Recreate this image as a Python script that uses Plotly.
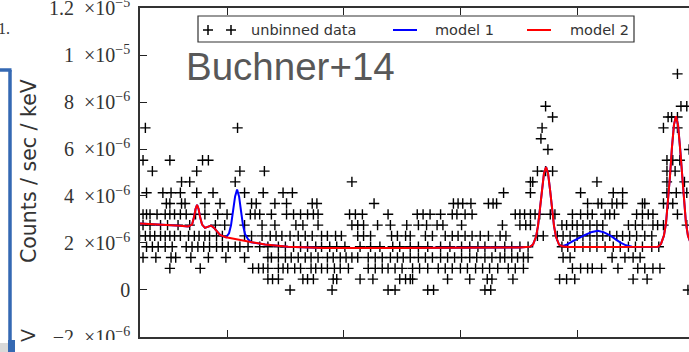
import plotly.graph_objects as go

# ---------------- data (energy in keV, rate in 1e-6 counts/sec/keV) ----------------
rate_levels = [0.00, 0.46, 0.92, 1.38, 1.84, 2.30, 2.76, 3.22, 3.68, 4.14, 4.60,
               5.06, 5.52, 5.98, 6.44, 6.90, 7.36, 7.82, 8.28, 8.74, 9.20]

x_l00 = [1.54, 1.90, 2.38, 2.44, 2.72, 2.77, 3.21, 3.26, 4.95]
x_l01 = [1.35, 1.39, 1.44, 1.65, 1.69, 1.74, 1.91, 1.94, 2.14, 2.25, 2.48, 2.53, 2.57, 2.59,
         2.89, 3.08, 3.23, 3.27, 3.45, 3.85, 3.91, 3.98, 4.48, 4.60]
x_l02 = [0.51, 0.77, 1.22, 1.27, 1.31, 1.35, 1.44, 1.48, 1.52, 1.58, 1.63, 1.72, 1.76, 1.81,
         1.86, 1.92, 1.97, 2.04, 2.21, 2.27, 2.33, 2.38, 2.44, 2.50, 2.59, 2.65, 2.72, 2.81,
         2.87, 2.93, 3.00, 3.06, 3.13, 3.19, 3.25, 3.32, 3.41, 3.47, 3.54, 3.96, 4.03, 4.09,
         4.13, 4.21, 4.35, 4.52, 4.58, 4.65, 4.71]
x_l03 = [0.28, 0.39, 0.52, 0.56, 0.69, 0.84, 0.99, 1.15, 1.35, 1.38, 1.44, 1.50, 1.55, 1.61,
         1.67, 1.72, 1.78, 1.86, 1.91, 1.97, 2.02, 2.07, 2.12, 2.21, 2.27, 2.33, 2.40, 2.46,
         2.51, 2.57, 2.64, 2.70, 2.76, 2.83, 2.89, 2.95, 3.01, 3.08, 3.14, 3.21, 3.27, 3.34,
         3.38, 3.44, 3.49, 3.54, 3.58, 3.88, 3.94, 4.30, 4.41, 4.48, 4.54]
x_l04 = [0.31, 0.36, 0.41, 0.47, 0.53, 0.65, 0.70, 0.75, 0.80, 0.85, 0.91, 0.96, 1.01, 1.07,
         1.11, 1.18, 1.28, 1.35, 1.44, 1.50, 1.57, 1.63, 1.69, 1.76, 1.81, 1.88, 1.94, 2.01,
         2.14, 2.23, 2.31, 2.42, 2.48, 2.57, 2.64, 2.72, 2.83, 2.91, 3.01, 3.08, 3.15, 3.21,
         3.30, 3.38, 3.44, 3.51, 3.58, 3.87, 3.92, 3.98, 4.05, 4.11, 4.17, 4.24, 4.31, 4.37,
         4.44, 4.50, 4.56, 4.64, 4.70]
x_l05 = [0.25, 0.30, 0.34, 0.38, 0.43, 0.47, 0.51, 0.55, 0.60, 0.67, 0.72, 0.76, 0.81, 0.85,
         0.91, 0.96, 1.15, 1.21, 1.30, 1.37, 1.42, 1.47, 1.54, 1.61, 1.67, 1.73, 1.81, 1.86,
         1.93, 1.98, 2.12, 2.17, 2.23, 2.41, 2.46, 2.53, 2.57, 2.70, 2.76, 2.87, 2.93, 2.98,
         3.04, 3.10, 3.17, 3.24, 3.34, 3.39, 3.66, 3.71, 3.83, 3.88, 3.94, 4.00, 4.05, 4.11,
         4.17, 4.22, 4.28, 4.34, 4.39, 4.45, 4.51, 4.58, 4.64]
x_l06 = [0.28, 0.34, 0.43, 0.49, 0.58, 0.68, 0.90, 0.98, 1.15, 1.30, 1.41, 1.59, 1.65, 1.78,
         2.07, 2.12, 2.17, 2.29, 2.40, 2.54, 2.64, 2.71, 2.80, 2.85, 3.01, 3.36, 3.51, 3.56,
         3.60, 3.87, 3.91, 3.96, 4.00, 4.05, 4.11, 4.17, 4.22, 4.44, 4.50, 4.56, 4.65, 4.69,
         4.74, 4.94]
x_l07 = [0.28, 0.31, 0.34, 0.40, 0.47, 0.51, 0.55, 0.60, 0.65, 0.73, 0.81, 0.92, 1.00, 1.20,
         1.24, 1.28, 1.38, 1.51, 1.57, 1.63, 1.69, 1.74, 1.78, 2.05, 2.10, 2.16, 2.38, 2.63,
         2.68, 2.74, 2.83, 2.93, 2.97, 3.04, 3.10, 3.47, 3.51, 3.55, 3.60, 3.64, 3.68, 3.77,
         3.81, 3.96, 4.03, 4.09, 4.13, 4.24, 4.28, 4.32, 4.51, 4.56, 4.61, 4.65, 4.86]
x_l08 = [0.48, 0.51, 0.61, 0.64, 0.81, 0.94, 1.21, 1.25, 1.41, 1.51, 1.73, 1.77, 2.26, 2.94,
         2.98, 3.02, 3.09, 3.24, 3.28, 3.31, 4.09, 4.18, 4.21, 4.30, 4.34, 4.39, 4.56, 4.58,
         4.74, 4.78, 4.82]
x_l09 = [0.31, 0.45, 0.52, 0.60, 0.74, 0.88, 1.15, 1.31, 1.48, 1.56, 3.37, 3.60, 4.03, 4.31,
         4.39, 4.77, 4.85, 4.94]
x_l10 = [0.61, 0.68, 1.07, 2.07, 3.60, 3.62, 4.17, 4.77, 4.92]
x_l11 = [0.36, 0.74, 1.11, 1.32, 3.66, 3.73, 3.79, 4.77, 4.84]
x_l12 = [0.28, 0.51, 0.79, 0.84, 4.77, 4.82, 4.88]
x_l13 = [3.75, 4.96]
x_l14 = [3.69]
x_l15 = [0.30, 1.09, 3.70, 4.74, 4.86]
x_l16 = [3.79, 4.78, 4.81, 4.86]
x_l17 = [3.73, 4.89, 4.94]
x_l18 = []
x_l19 = []
x_l20 = [4.86]

energies_by_level = [x_l00, x_l01, x_l02, x_l03, x_l04, x_l05, x_l06, x_l07, x_l08, x_l09,
                     x_l10, x_l11, x_l12, x_l13, x_l14, x_l15, x_l16, x_l17, x_l18, x_l19,
                     x_l20]

model2_energy = [0.254, 0.340, 0.426, 0.512, 0.597, 0.666, 0.700, 0.717, 0.730, 0.743, 0.756,
                 0.769, 0.786, 0.811, 0.837, 0.863, 0.889, 0.914, 0.940, 0.991, 1.094, 1.206,
                 1.326, 1.523, 1.823, 2.482, 3.168, 3.511, 3.562, 3.596, 3.622, 3.648, 3.665,
                 3.682, 3.699, 3.716, 3.734, 3.751, 3.768, 3.785, 3.802, 3.819, 3.845, 3.870,
                 3.922, 4.196, 4.539, 4.693, 4.719, 4.744, 4.762, 4.779, 4.796, 4.813, 4.830,
                 4.847, 4.865, 4.882, 4.899, 4.916, 4.933, 4.950, 4.976]
model2_rate = [2.83, 2.81, 2.79, 2.77, 2.73, 2.70, 2.78, 3.10, 3.45, 3.62, 3.45,
               3.10, 2.78, 2.64, 2.68, 2.74, 2.64, 2.47, 2.34, 2.24, 2.15, 2.03,
               1.93, 1.84, 1.79, 1.79, 1.79, 1.81, 1.83, 1.84, 1.93, 2.26, 2.73,
               3.43, 4.27, 4.96, 5.23, 4.96, 4.27, 3.43, 2.73, 2.26, 1.93, 1.86,
               1.83, 1.83, 1.83, 1.84, 1.96, 2.31, 2.84, 3.70, 4.84, 6.07, 7.03,
               7.40, 7.03, 6.07, 4.84, 3.70, 2.84, 2.31, 1.96]

model1_energy = [0.254, 0.340, 0.426, 0.512, 0.597, 0.666, 0.700, 0.717, 0.730, 0.743, 0.756,
                 0.769, 0.786, 0.811, 0.837, 0.863, 0.889, 0.914, 0.940, 0.957, 0.991, 1.017,
                 1.034, 1.051, 1.069, 1.086, 1.103, 1.120, 1.137, 1.154, 1.180, 1.206,
                 1.326, 1.523, 1.823, 2.482, 3.168, 3.511, 3.562, 3.596, 3.622, 3.648, 3.665,
                 3.682, 3.699, 3.716, 3.734, 3.751, 3.768, 3.785, 3.802, 3.819, 3.845, 3.870,
                 3.905, 3.956, 4.016, 4.068, 4.128, 4.179, 4.231, 4.290, 4.333, 4.376, 4.419,
                 4.470, 4.539, 4.693, 4.719, 4.744, 4.762, 4.779, 4.796, 4.813, 4.830,
                 4.847, 4.865, 4.882, 4.899, 4.916, 4.933, 4.950, 4.976]
model1_rate = [2.83, 2.81, 2.79, 2.77, 2.73, 2.70, 2.78, 3.10, 3.45, 3.62, 3.45,
               3.10, 2.78, 2.64, 2.68, 2.74, 2.64, 2.47, 2.34, 2.30, 2.24, 2.41,
               2.75, 3.35, 3.98, 4.28, 3.98, 3.35, 2.75, 2.38, 2.16, 2.03,
               1.93, 1.84, 1.79, 1.79, 1.79, 1.81, 1.83, 1.84, 1.93, 2.26, 2.73,
               3.43, 4.27, 4.96, 5.23, 4.96, 4.27, 3.43, 2.73, 2.26, 1.93, 1.86,
               1.91, 2.06, 2.22, 2.34, 2.47, 2.52, 2.45, 2.30, 2.14, 2.00, 1.90,
               1.84, 1.83, 1.84, 1.96, 2.31, 2.84, 3.70, 4.84, 6.07, 7.03,
               7.40, 7.03, 6.07, 4.84, 3.70, 2.84, 2.31, 1.96]

y_tickvals = [-2, 0, 2, 4, 6, 8, 10, 12]
y_ticktext = ["\u22122\u2002\u00d710<sup>\u22126</sup>", "0",
              "2\u2002\u00d710<sup>\u22126</sup>", "4\u2002\u00d710<sup>\u22126</sup>",
              "6\u2002\u00d710<sup>\u22126</sup>", "8\u2002\u00d710<sup>\u22126</sup>",
              "1\u2002\u00d710<sup>\u22125</sup>", "1.2\u2002\u00d710<sup>\u22125</sup>"]
x_tickvals = [1, 2, 3, 4]

legend_labels = ["unbinned data", "model 1", "model 2"]

# ---------------- layout geometry ----------------
W, H = 689, 352
ML, MR, MT, MB = 140, 0, 8, 15
PW, PH = W - ML - MR, H - MT - MB


def fx(p):
    return (p - ML) / PW


def fy(p):
    return (H - MB - p) / PH


# ---------------- figure ----------------
fig = go.Figure()

data_x, data_y = [], []
for lvl, xs in zip(rate_levels, energies_by_level):
    data_x.extend(xs)
    data_y.extend([lvl] * len(xs))

fig.add_trace(go.Scatter(
    x=data_x, y=data_y, mode="markers", name=legend_labels[0],
    marker=dict(symbol="cross-thin", size=7.4, color="black",
                line=dict(width=1.4, color="black")),
    showlegend=False, cliponaxis=True))

fig.add_trace(go.Scatter(x=model1_energy, y=model1_rate, mode="lines", name=legend_labels[1],
                         line=dict(color="#0000ff", width=2), showlegend=False))
fig.add_trace(go.Scatter(x=model2_energy, y=model2_rate, mode="lines", name=legend_labels[2],
                         line=dict(color="#ff0000", width=2), showlegend=False))

fig.update_xaxes(range=[0.254, 4.959], tickvals=x_tickvals, showticklabels=False,
                 ticks="inside", ticklen=7, tickwidth=1, tickcolor="#222",
                 showline=True, linecolor="#333", linewidth=1.5, mirror="ticks",
                 showgrid=False, zeroline=False, automargin=False)
fig.update_yaxes(range=[-2.004, 12.004], tickvals=y_tickvals, ticktext=y_ticktext,
                 ticks="inside", ticklen=7, tickwidth=1, tickcolor="#222",
                 showline=True, linecolor="#333", linewidth=1.5, mirror=False,
                 showgrid=False, zeroline=False, ticklabelstandoff=4, automargin=False,
                 ticklabeloverflow="allow",
                 tickfont=dict(family="Liberation Serif", size=20, color="#333"))

shapes = []
# legend frame and glyphs
shapes.append(dict(type="rect", xref="paper", yref="paper", x0=fx(198), x1=fx(634),
                   y0=fy(42), y1=fy(16), line=dict(color="#333", width=1.2),
                   fillcolor="white", layer="above"))
for cx in (208, 231):
    shapes.append(dict(type="line", xref="paper", yref="paper", x0=fx(cx - 5), x1=fx(cx + 5),
                       y0=fy(30), y1=fy(30), line=dict(color="black", width=1.5), layer="above"))
    shapes.append(dict(type="line", xref="paper", yref="paper", x0=fx(cx), x1=fx(cx),
                       y0=fy(25), y1=fy(35), line=dict(color="black", width=1.5), layer="above"))
shapes.append(dict(type="line", xref="paper", yref="paper", x0=fx(393), x1=fx(417),
                   y0=fy(30), y1=fy(30), line=dict(color="#0000ff", width=2), layer="above"))
shapes.append(dict(type="line", xref="paper", yref="paper", x0=fx(527), x1=fx(551),
                   y0=fy(30), y1=fy(30), line=dict(color="#ff0000", width=2), layer="above"))
# white band at the bottom of the crop
shapes.append(dict(type="rect", xref="paper", yref="paper", x0=fx(15), x1=fx(700),
                   y0=fy(356), y1=fy(340), line=dict(width=0), fillcolor="white", layer="above"))
# blue frame at the left edge
shapes.append(dict(type="line", xref="paper", yref="paper", x0=fx(-2), x1=fx(11.5),
                   y0=fy(70), y1=fy(70), line=dict(color="#3569b3", width=3.5), layer="above"))
shapes.append(dict(type="line", xref="paper", yref="paper", x0=fx(10), x1=fx(10),
                   y0=fy(70), y1=fy(341), line=dict(color="#3569b3", width=3.5), layer="above"))
shapes.append(dict(type="rect", xref="paper", yref="paper", x0=fx(8), x1=fx(15),
                   y0=fy(356), y1=fy(340), line=dict(width=0), fillcolor="#3569b3", layer="above"))
shapes.append(dict(type="rect", xref="paper", yref="paper", x0=fx(-2), x1=fx(8),
                   y0=fy(356), y1=fy(343), line=dict(width=0), fillcolor="#d9d9d9", layer="above"))

annotations = []
sans = "DejaVu Sans"
for label, xl in zip(legend_labels, (249, 433, 568)):
    annotations.append(dict(text=label, xref="paper", yref="paper", x=fx(xl), y=fy(30),
                            xanchor="left", yanchor="middle", showarrow=False,
                            font=dict(family=sans, size=14.5, color="#333")))
annotations.append(dict(text="Buchner+14", xref="paper", yref="paper", x=fx(184), y=fy(66),
                        xanchor="left", yanchor="middle", showarrow=False,
                        font=dict(family="Liberation Sans", size=38.5, color="#585858")))
annotations.append(dict(text="Counts / sec / keV", xref="paper", yref="paper", x=fx(29),
                        y=fy(171), xanchor="center", yanchor="middle", textangle=-90,
                        showarrow=False, font=dict(family=sans, size=20.5, color="#333")))
annotations.append(dict(text="V", xref="paper", yref="paper", x=fx(28), y=fy(335),
                        xanchor="center", yanchor="middle", textangle=-90,
                        showarrow=False, font=dict(family=sans, size=19, color="#333")))
annotations.append(dict(text="1.", xref="paper", yref="paper", x=fx(12), y=fy(28),
                        xanchor="right", yanchor="middle", showarrow=False,
                        font=dict(family="Liberation Serif", size=16, color="#333")))

fig.update_layout(width=W, height=H, autosize=False,
                  margin=dict(l=ML, r=MR, t=MT, b=MB, pad=0),
                  paper_bgcolor="white", plot_bgcolor="white",
                  showlegend=False, shapes=shapes, annotations=annotations)

fig.write_html("out.html", config={"displayModeBar": False},
               post_script="document.body.style.margin='0';document.body.style.overflow='hidden';")
